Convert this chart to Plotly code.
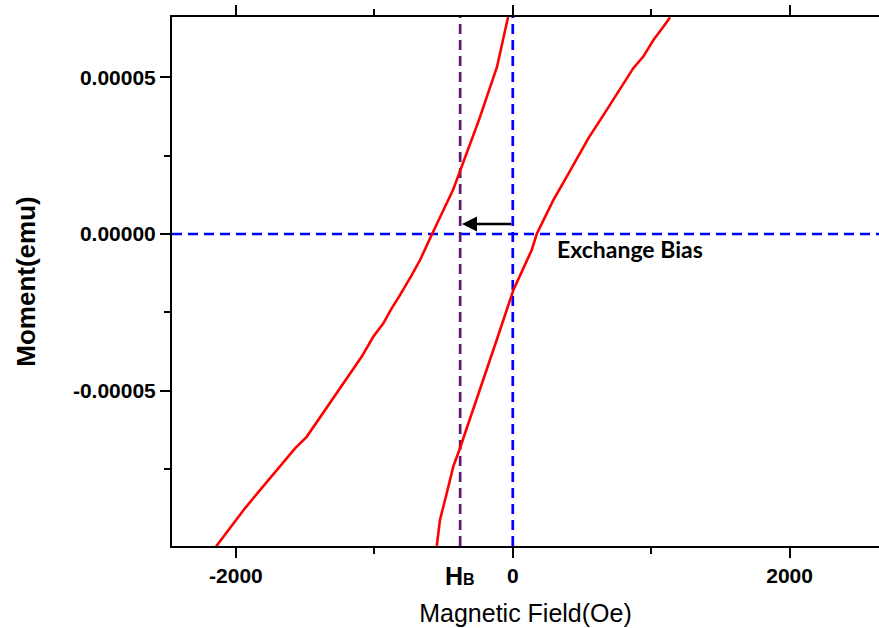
import plotly.graph_objects as go

# ---- data ----
# descending branch (left loop side)
desc_H = [-2144, -2019, -1935, -1875, -1742, -1573, -1489, -1405, -1297, -1224,
          -1091, -1008, -935, -875, -815, -730, -670, -583, -432, -338, -244, -114, -34]
desc_M = [-9.97e-5, -9.23e-5, -8.75e-5, -8.43e-5, -7.74e-5, -6.84e-5, -6.47e-5, -5.93e-5,
          -5.24e-5, -4.76e-5, -3.91e-5, -3.28e-5, -2.85e-5, -2.37e-5, -1.95e-5, -1.31e-5,
          -0.83e-5, 0.0, 1.40e-5, 2.52e-5, 3.64e-5, 5.33e-5, 6.92e-5]
# ascending branch (right loop side)
asc_H = [-549, -526, -477, -430, -386, -237, -116, 4, 137, 173, 293, 390, 486, 546,
         679, 739, 811, 871, 943, 1016, 1088, 1136]
asc_M = [-9.95e-5, -9.12e-5, -8.27e-5, -7.42e-5, -6.89e-5, -4.98e-5, -3.38e-5, -1.79e-5,
         -0.51e-5, 0.0, 1.08e-5, 1.83e-5, 2.57e-5, 3.05e-5, 3.96e-5, 4.38e-5, 4.91e-5,
         5.29e-5, 5.66e-5, 6.19e-5, 6.61e-5, 6.91e-5]

H_B = -380            # exchange bias field (Oe)
arrow_tip_H = -367
arrow_M = 3.2e-6

x_tickvals = [-2000, 0, 2000]
x_ticktext = ["-2000", "0", "2000"]
y_tickvals = [5e-5, 0, -5e-5]
y_ticktext = ["0.00005", "0.00000", "-0.00005"]

x_range = [-2462, 2646]
y_range = [-9.952e-5, 6.922e-5]

# ---- figure ----
fig = go.Figure()

dash = "10px,6px"
fig.add_hline(y=0, line=dict(color="#0000FF", width=2.7, dash=dash), layer="below")
fig.add_vline(x=0, line=dict(color="#0000FF", width=2.7, dash=dash), layer="below")
fig.add_vline(x=H_B, line=dict(color="#5E1A6E", width=2.7, dash=dash), layer="below")

for hx, my in [(desc_H, desc_M), (asc_H, asc_M)]:
    fig.add_trace(go.Scatter(x=hx, y=my, mode="lines",
                             line=dict(color="#FF0000", width=2.6),
                             showlegend=False, hoverinfo="skip"))

fig.add_annotation(x=arrow_tip_H, y=arrow_M, ax=0, ay=arrow_M,
                   xref="x", yref="y", axref="x", ayref="y",
                   text="", showarrow=True, arrowhead=2, arrowsize=1.2,
                   arrowwidth=2.5, arrowcolor="black")

fig.add_annotation(x=305, y=-4.8e-6, xref="x", yref="y", text="<b>Exchange Bias</b>",
                   showarrow=False, xanchor="left", yanchor="middle",
                   font=dict(family="Lato", size=23, color="black"))

fig.add_annotation(x=H_B, y=-0.0, xref="x", yref="paper",
                   text="<b>H</b><span style='font-size:16px'><b>B</b></span>",
                   showarrow=False, xanchor="center", yanchor="top", yshift=-14,
                   font=dict(family="Liberation Sans", size=25, color="black"))

tickfont = dict(family="Liberation Sans", size=21, color="black", weight="bold")

fig.update_xaxes(range=x_range, tickmode="array", tickvals=x_tickvals, ticktext=x_ticktext,
                 showgrid=False, zeroline=False, showline=True, linecolor="black",
                 linewidth=2, mirror="ticks", ticks="outside", ticklen=10, tickwidth=2,
                 tickcolor="black", tickfont=tickfont,
                 minor=dict(dtick=1000, tick0=0, ticks="outside", ticklen=6,
                            tickwidth=2, tickcolor="black", showgrid=False),
                 title=dict(text="Magnetic Field(Oe)", standoff=18,
                            font=dict(family="Liberation Sans", size=25, color="black")))

fig.update_yaxes(range=y_range, tickmode="array", tickvals=y_tickvals, ticktext=y_ticktext,
                 showgrid=False, zeroline=False, showline=True, linecolor="black",
                 linewidth=2, ticks="outside", ticklen=10, tickwidth=2,
                 tickcolor="black", tickfont=tickfont,
                 minor=dict(dtick=2.5e-5, tick0=0, ticks="outside", ticklen=6,
                            tickwidth=2, tickcolor="black", showgrid=False),
                 title=dict(text="<b>Moment(emu)</b>", standoff=30,
                            font=dict(family="Liberation Sans", size=26, color="black")))

fig.update_layout(width=879, height=628, margin=dict(l=172, r=0, t=17, b=82),
                  paper_bgcolor="white", plot_bgcolor="white", showlegend=False)

fig.write_html("out.html")
